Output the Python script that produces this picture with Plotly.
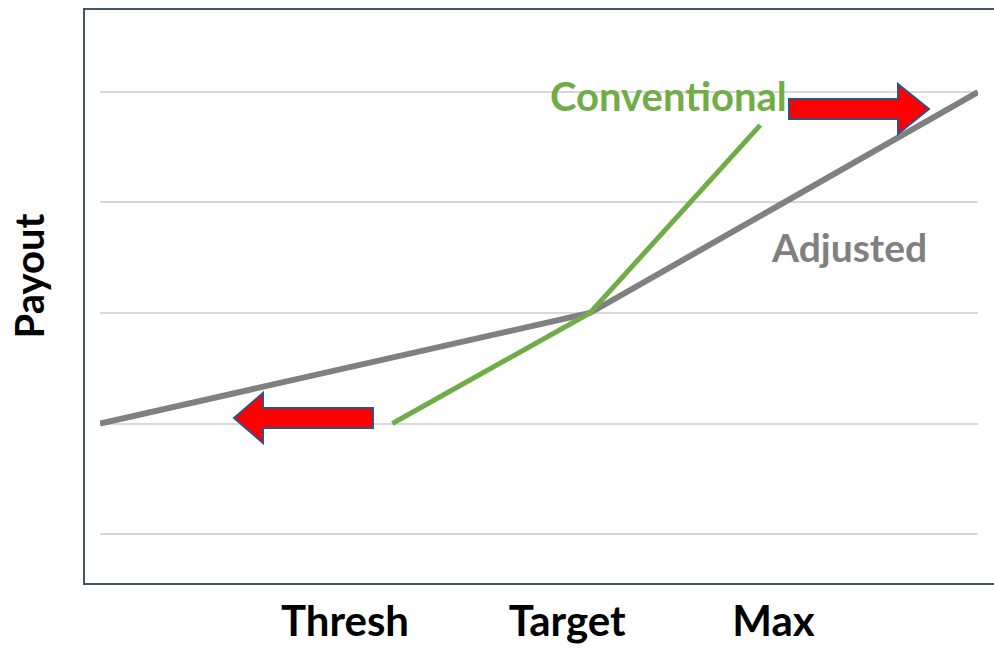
import plotly.graph_objects as go

# Performance scale (0-100) and payout levels
adjusted_x = [0, 55.8, 100]
adjusted_y = [2, 3, 5]
conventional_x = [33.3, 55.8, 75.2]
conventional_y = [2, 3, 4.70]

category_labels = ["Thresh", "Target", "Max"]
category_pos = [27.9, 53.2, 76.7]
grid_levels = [1, 2, 3, 4, 5]

GRAY = "#808080"
GREEN = "#70AD47"
FONT = "Lato"

fig = go.Figure()
fig.add_trace(go.Scatter(x=adjusted_x, y=adjusted_y, mode="lines",
                         line=dict(color=GRAY, width=6), hoverinfo="skip"))
fig.add_trace(go.Scatter(x=conventional_x, y=conventional_y, mode="lines",
                         line=dict(color=GREEN, width=5), hoverinfo="skip"))


def arrow_path(length, head, shaft_h, head_h, direction):
    d = direction
    pts = [(0, 0), (-d * head, -head_h), (-d * head, -shaft_h), (-d * length, -shaft_h),
           (-d * length, shaft_h), (-d * head, shaft_h), (-d * head, head_h)]
    return "M " + " L ".join(f"{x} {y}" for x, y in pts) + " Z"


arrow_style = dict(type="path", xref="x", yref="y", xsizemode="pixel", ysizemode="pixel",
                   fillcolor="#FF0000", line=dict(color="#2F528F", width=2), layer="above")
# right-pointing arrow near the top, left-pointing arrow at threshold level
fig.add_shape(xanchor=94.42, yanchor=4.846, path=arrow_path(140, 31, 10, 25, 1), **arrow_style)
fig.add_shape(xanchor=15.26, yanchor=2.05, path=arrow_path(139, 29, 10, 25, -1), **arrow_style)

# frame around the chart area
fig.add_shape(type="rect", xref="paper", yref="paper", x0=-16 / 878, x1=1.05, y0=0, y1=1,
              line=dict(color="#44546A", width=2), layer="above")

fig.add_annotation(x=64.7, y=4.96, text="<b>Conventional</b>", showarrow=False,
                   font=dict(family=FONT, size=40, color=GREEN), xanchor="center", yanchor="middle")
fig.add_annotation(x=85.3, y=3.6, text="<b>Adjusted</b>", showarrow=False,
                   font=dict(family=FONT, size=39, color=GRAY), xanchor="center", yanchor="middle")
fig.add_annotation(x=-71 / 878, y=0.535, xref="paper", yref="paper", text="<b>Payout</b>",
                   textangle=-90, showarrow=False,
                   font=dict(family=FONT, size=40, color="black"), xanchor="center", yanchor="middle")

fig.update_xaxes(range=[0, 100], tickvals=category_pos, ticktext=[f"<b>{t}</b>" for t in category_labels],
                 showgrid=False, zeroline=False, showline=False, ticks="", automargin=False,
                 tickfont=dict(family=FONT, size=42, color="black"), ticklabelstandoff=9)
fig.update_yaxes(range=[0.5475, 5.751], tickvals=grid_levels, showticklabels=False, automargin=False,
                 showgrid=True, gridcolor="#D9D9D9", gridwidth=1.5, zeroline=False, showline=False)

fig.update_layout(width=994, height=648, margin=dict(l=100, r=16, t=9, b=64),
                  plot_bgcolor="white", paper_bgcolor="white", showlegend=False)

fig.write_html("out.html")
